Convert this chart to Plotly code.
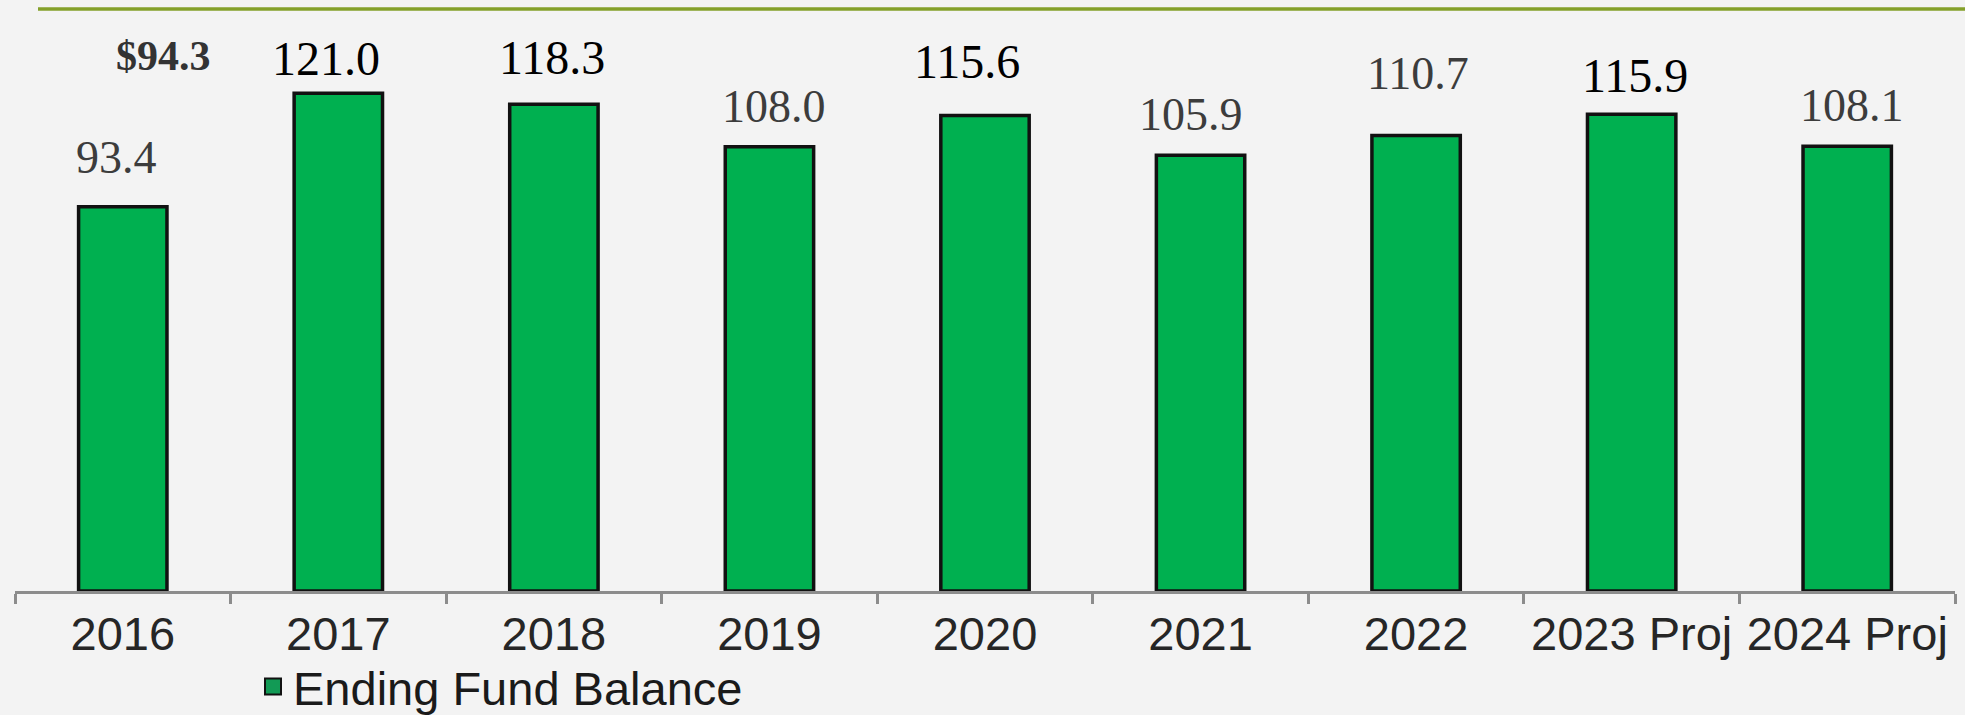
import plotly.graph_objects as go

# Ending fund balance ($ millions) by fiscal year
years = ["2016", "2017", "2018", "2019", "2020", "2021", "2022", "2023 Proj", "2024 Proj"]
balances = [93.4, 121.0, 118.3, 108.0, 115.6, 105.9, 110.7, 115.9, 108.1]
series_name = "Ending Fund Balance"
prior_note = "$94.3"

# label styling: pixel offsets from each bar top, plus per-label colour / size
label_dy = [49, 35, 47, 40, 54, 41, 62, 39, 41]
label_dx = [-6, -12, -2, 5, -18, -10, 2, 3, 5]
label_color = ["#3c3c3c", "#000000", "#000000", "#3c3c3c", "#000000",
               "#3c3c3c", "#3c3c3c", "#000000", "#3c3c3c"]
label_size = [46, 48, 48, 46, 48, 46, 46, 48, 46]

W, H = 1965, 715
ML, MR, MT, MB = 15, 10, 15, 124
plot_w = W - ML - MR
plot_h = H - MT - MB
Y_MAX = 140

BAR_GREEN = "#00B050"
BG = "#F3F3F3"

fig = go.Figure()

fig.add_trace(go.Bar(
    x=years,
    y=balances,
    marker=dict(color=BAR_GREEN, line=dict(color="#111111", width=3.5)),
    showlegend=False,
    hoverinfo="x+y",
))

# legend entry with a larger swatch than the default bar icon
fig.add_trace(go.Scatter(
    x=[None], y=[None],
    mode="markers",
    name=series_name,
    marker=dict(symbol="square", size=16, color="#129A55",
                line=dict(color="#111111", width=2)),
    showlegend=True,
))

annotations = []
for i, v in enumerate(balances):
    annotations.append(dict(
        x=i, y=v, xref="x", yref="y",   # category index on the x axis
        text=f"{v:.1f}",
        showarrow=False,
        xanchor="center", yanchor="middle",
        xshift=label_dx[i], yshift=label_dy[i],
        font=dict(family="Liberation Serif", size=label_size[i], color=label_color[i]),
    ))

# prior-year figure shown beside the first bar
annotations.append(dict(
    x=0, y=balances[0], xref="x", yref="y",
    text=f"<b>{prior_note}</b>",
    showarrow=False,
    xanchor="center", yanchor="middle",
    xshift=41, yshift=(591 - 56) - balances[0] * plot_h / Y_MAX,
    font=dict(family="Liberation Serif", size=42, color="#333333"),
))

# olive rule across the top of the slide
line_y = 1 + (MT - 9) / plot_h
fig.add_shape(
    type="line", xref="paper", yref="paper",
    x0=(38 - ML) / plot_w, x1=1 + MR / plot_w,
    y0=line_y, y1=line_y,
    line=dict(color="#84A02A", width=3.5),
)

fig.update_layout(
    width=W, height=H,
    margin=dict(l=ML, r=MR, t=MT, b=MB, pad=0, autoexpand=False),
    paper_bgcolor=BG,
    plot_bgcolor=BG,
    bargap=0.59,
    annotations=annotations,
    legend=dict(
        orientation="h",
        x=(253 - ML) / plot_w, xanchor="left",
        yref="container",
        y=1 - 687 / H, yanchor="middle",
        font=dict(family="Liberation Sans", size=47, color="#1A1A1A"),
        bgcolor="rgba(0,0,0,0)",
        itemclick=False,
    ),
    xaxis=dict(
        type="category",
        range=[-0.5, len(years) - 0.5],
        automargin=False,
        showline=True, linecolor="#8C8C8C", linewidth=2.5,
        ticks="outside", tickson="boundaries",
        ticklen=10, tickwidth=2.5, tickcolor="#8C8C8C",
        showgrid=False, zeroline=False,
        tickfont=dict(family="Liberation Sans", size=47, color="#262626"),
    ),
    yaxis=dict(
        range=[0, Y_MAX],
        visible=False,
        automargin=False,
        showgrid=False, zeroline=False,
    ),
)

fig.write_html("out.html")
